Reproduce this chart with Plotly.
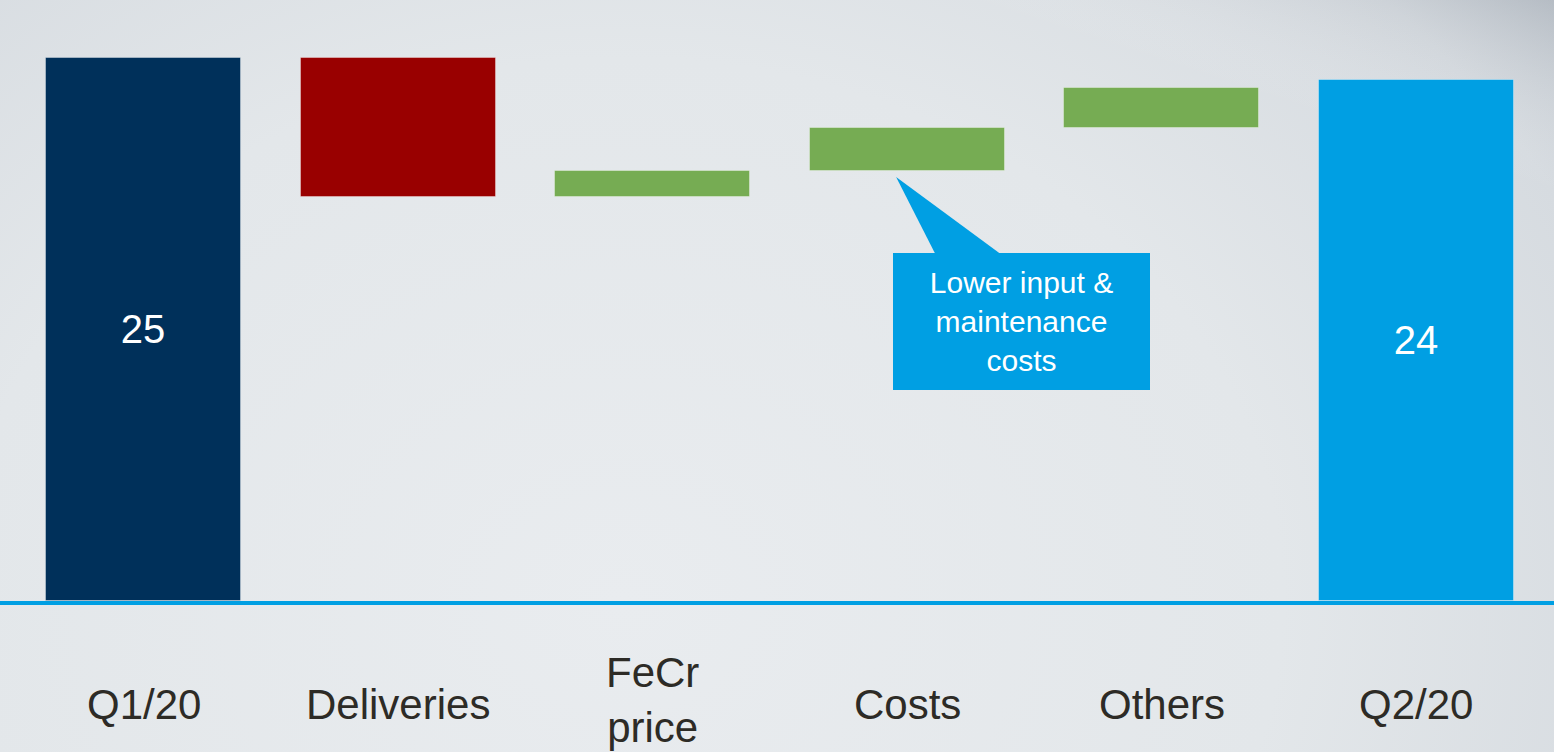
import base64
import plotly.graph_objects as go

# ---- data ----
categories = ["Q1/20", "Deliveries", "FeCr<br>price", "Costs", "Others", "Q2/20"]
values = [25.0, -6.4, 1.2, 2.0, 1.8, 24.0]
measures = ["absolute", "relative", "relative", "relative", "relative", "absolute"]
bar_colors = ["#00305A", "#990000", "#76AC53", "#76AC53", "#76AC53", "#009FE3"]
callout_text = "Lower input &<br>maintenance<br>costs"

FONT = "Liberation Sans, Arial, sans-serif"

# ---- waterfall geometry from the values ----
xpos = list(range(len(categories)))
bases, heights, texts = [], [], []
level = 0.0
for v, m in zip(values, measures):
    if m == "absolute":
        bases.append(0.0)
        heights.append(v)
        texts.append(f"{v:g}")
        level = v
    else:
        bases.append(level)
        heights.append(v)
        texts.append("")
        level += v

fig = go.Figure()
fig.add_trace(go.Bar(
    x=xpos, y=heights, base=bases,
    marker=dict(color=bar_colors, line=dict(color="rgba(255,255,255,0.35)", width=1)),
    width=0.766,
    text=texts, textposition="inside", insidetextanchor="middle",
    textfont=dict(family=FONT, size=40, color="white"),
    constraintext="none", textangle=0,
    hoverinfo="skip", showlegend=False,
))

# ---- background (brushed-metal-like gradient) ----
svg = """<svg xmlns='http://www.w3.org/2000/svg' width='1554' height='752' viewBox='0 0 1554 752' preserveAspectRatio='none'>
<defs>
<radialGradient id='g' cx='0.4' cy='0.8' r='0.85' gradientTransform='translate(0.4 0.8) scale(1 1.7) translate(-0.4 -0.8)'>
<stop offset='0' stop-color='#E9ECEF'/>
<stop offset='0.5' stop-color='#E3E7EA'/>
<stop offset='0.8' stop-color='#D6DBE0'/>
<stop offset='1' stop-color='#B8BFC7'/>
</radialGradient>
<linearGradient id='h' x1='0.6' y1='0.6' x2='1' y2='0'>
<stop offset='0' stop-color='#FFFFFF' stop-opacity='0'/>
<stop offset='0.7' stop-color='#FFFFFF' stop-opacity='0'/>
<stop offset='1' stop-color='#8C95A0' stop-opacity='0.3'/>
</linearGradient>
</defs>
<rect width='1554' height='752' fill='url(#g)'/>
<rect width='1554' height='752' fill='url(#h)'/>
</svg>"""
src = "data:image/svg+xml;base64," + base64.b64encode(svg.encode()).decode()

H, W = 752, 1554
MB = 151
plot_h = H - MB
fig.add_layout_image(dict(
    source=src, xref="paper", yref="paper", x=0, y=1,
    sizex=1, sizey=H / plot_h, sizing="stretch", layer="below",
    xanchor="left", yanchor="top",
))

# ---- baseline axis line ----
fig.add_shape(type="line", xref="paper", x0=0, x1=1,
              yref="paper", y0=-2 / plot_h, y1=-2 / plot_h,
              line=dict(color="#009FE3", width=4), layer="above")

# ---- category labels ----
for xi, lab in zip(xpos, categories):
    multi = "<br>" in lab
    fig.add_annotation(x=xi, y=0, xref="x", yref="y", text=lab, showarrow=False,
                       yanchor="middle", xanchor="center", yshift=-99 if multi else -103,
                       font=dict(family=FONT, size=42, color="#2D2B26"))

# ---- callout ----
costs_i = 3
fig.add_shape(type="path", xref="x", yref="y",
              path=f"M {costs_i - 0.043} 19.52 L {costs_i + 0.11} 16.0 L {costs_i + 0.365} 16.0 Z",
              fillcolor="#009FE3", line=dict(width=0), layer="above")
fig.add_annotation(x=costs_i + 0.45, y=12.87, xref="x", yref="y", text=callout_text,
                   showarrow=False, xanchor="center", yanchor="middle",
                   width=257, height=137, bgcolor="#009FE3", borderpad=0, borderwidth=0,
                   align="center", valign="middle",
                   font=dict(family=FONT, size=30, color="white"))

fig.update_layout(
    width=W, height=H,
    margin=dict(l=0, r=0, t=0, b=MB),
    paper_bgcolor="#DDE1E5", plot_bgcolor="rgba(0,0,0,0)",
    xaxis=dict(range=[-0.564, 5.542], showticklabels=False, showgrid=False,
               zeroline=False, showline=False, ticks="", fixedrange=True),
    yaxis=dict(range=[0, plot_h / 21.72], showticklabels=False, showgrid=False,
               zeroline=False, showline=False, ticks="", fixedrange=True),
    bargap=0, showlegend=False,
)

fig.write_html("out.html", config={"displayModeBar": False},
               post_script="document.body.style.margin='0';document.body.style.overflow='hidden';")
